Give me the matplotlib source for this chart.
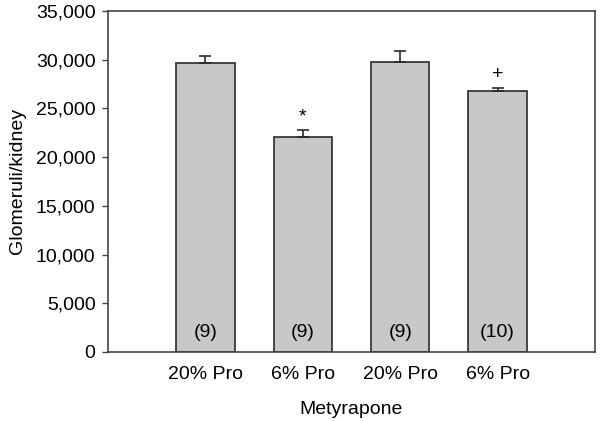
import matplotlib
matplotlib.use("Agg")
import matplotlib.pyplot as plt
from matplotlib.ticker import FuncFormatter

plt.rcParams['font.family'] = ['Liberation Sans', 'DejaVu Sans']

# data
groups = ['20% Pro', '6% Pro', '20% Pro', '6% Pro']
means = [29700, 22100, 29730, 26790]
sem = [650, 650, 1200, 340]
n_labels = ['(9)', '(9)', '(9)', '(10)']
marks = ['', '*', '', '+']
mark_y = [0, 24100, 0, 28500]

fig = plt.figure(figsize=(6.0, 4.21), dpi=100)
ax = fig.add_axes([108/600, 1-352/421, (595-108)/600, (352-11)/421])

x = [1, 2, 3, 4]
ax.bar(x, means, width=0.6, color='#c8c8c8', edgecolor='#2a2a2a', linewidth=1.2,
       zorder=2)
ax.errorbar(x, means, yerr=[[0]*4, sem], fmt='none', ecolor='#2a2a2a',
            elinewidth=1.2, capsize=4, capthick=1.2, zorder=3)

for xi, lab in zip(x, n_labels):
    ax.text(xi, 2050, lab, ha='center', va='center', fontsize=14, zorder=4)
for xi, m, my in zip(x, marks, mark_y):
    if m:
        ax.text(xi, my, m, ha='center', va='center', fontsize=14, zorder=4)

ax.set_xlim(0, 5)
ax.set_ylim(0, 35000)
ax.set_yticks(range(0, 35001, 5000))
ax.yaxis.set_major_formatter(FuncFormatter(lambda v, p: f'{int(v):,}'))
ax.set_xticks(x)
ax.set_xticklabels(groups)
ax.tick_params(axis='x', length=0, pad=10, labelsize=14)
ax.tick_params(axis='y', length=4, width=1, pad=5, labelsize=14, color='#444444')
for s in ax.spines.values():
    s.set_color('#444444')
    s.set_linewidth(1.2)

ax.set_ylabel('Glomeruli/kidney', fontsize=14, labelpad=7)
ax.set_xlabel('Metyrapone', fontsize=14, labelpad=13)

fig.savefig('out.png', dpi=100)
